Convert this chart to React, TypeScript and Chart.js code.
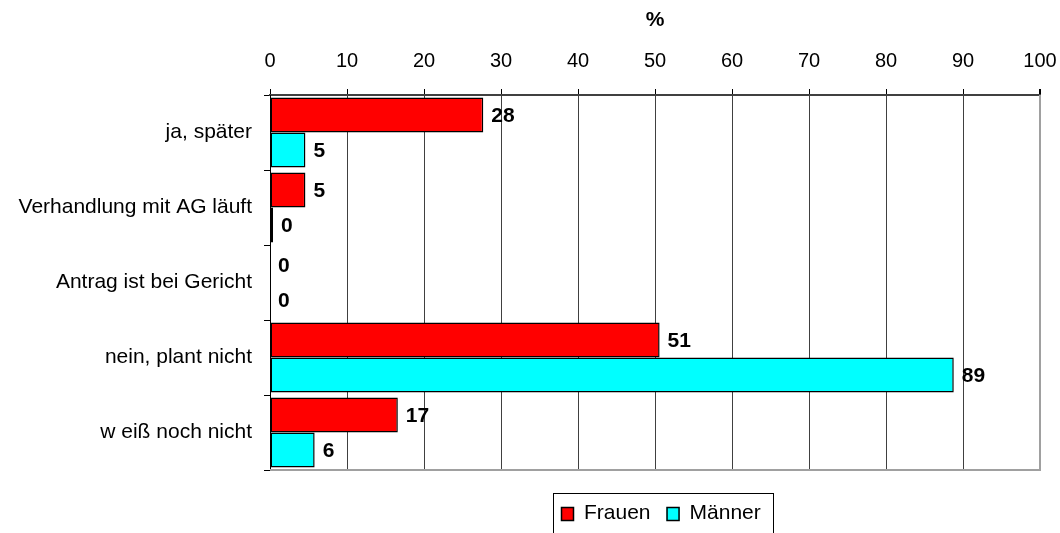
import React, { useEffect, useRef } from "react";
import { Chart, registerables } from "chart.js";

Chart.register(...registerables);

const categories = [
  "ja, später",
  "Verhandlung mit AG läuft",
  "Antrag ist bei Gericht",
  "nein, plant nicht",
  "w eiß noch nicht",
];
const seriesNames = ["Frauen", "Männer"];
const frauen = [27.7, 4.6, 0, 50.6, 16.6];
const maenner = [4.6, 0.4, 0, 88.8, 5.8];
const xTicks = [0, 10, 20, 30, 40, 50, 60, 70, 80, 90, 100];
const axisTitle = "%";

const FONT = "'Liberation Sans', Arial, Helvetica, sans-serif";

const valueLabels = {
  id: "valueLabels",
  afterDatasetsDraw(chart: any) {
    const ctx = chart.ctx;
    ctx.save();
    ctx.font = `bold 21px ${FONT}`;
    ctx.fillStyle = "#000";
    ctx.textBaseline = "middle";
    ctx.textAlign = "left";
    chart.data.datasets.forEach((ds: any, di: number) => {
      const meta = chart.getDatasetMeta(di);
      meta.data.forEach((el: any, i: number) => {
        const v = ds.data[i];
        ctx.fillText(String(Math.round(v)), el.x + 8, el.y + 1);
      });
    });
    ctx.restore();
  },
};

const frame = {
  id: "frame",
  beforeDatasetsDraw(chart: any) {
    const { ctx, chartArea: ca } = chart;
    ctx.save();
    ctx.strokeStyle = "#a0a0a0";
    ctx.lineWidth = 2;
    ctx.beginPath();
    ctx.moveTo(ca.left, ca.bottom);
    ctx.lineTo(ca.right, ca.bottom);
    ctx.lineTo(ca.right, ca.top);
    ctx.stroke();
    ctx.restore();
  },
};

const boxLegend = {
  id: "boxLegend",
  afterDraw(chart: any) {
    const { ctx, chartArea: ca } = chart;
    const cx = (ca.left + ca.right) / 2;
    const left = Math.round(cx - 102);
    const right = Math.round(cx + 118);
    const top = Math.round(ca.bottom + 23);
    ctx.save();
    ctx.font = `21px ${FONT}`;
    ctx.strokeStyle = "#000";
    ctx.lineWidth = 1;
    ctx.strokeRect(left + 0.5, top + 0.5, right - left, 80);
    const yc = top + 20;
    let x = left + 8;
    chart.data.datasets.forEach((ds: any) => {
      ctx.fillStyle = ds.backgroundColor;
      ctx.fillRect(x, top + 14, 13, 14);
      ctx.strokeStyle = "#000";
      ctx.lineWidth = 1.5;
      ctx.strokeRect(x + 0.5, top + 14.5, 12, 13);
      x += 13 + 10;
      ctx.fillStyle = "#000";
      ctx.textBaseline = "middle";
      ctx.textAlign = "left";
      ctx.fillText(ds.label, x, yc);
      x += ctx.measureText(ds.label).width + 16;
    });
    ctx.restore();
  },
};

export default function App() {
  const ref = useRef<HTMLCanvasElement>(null);

  useEffect(() => {
    Chart.defaults.font.family = FONT;
    Chart.defaults.color = "#000";
    const chart = new Chart(ref.current as HTMLCanvasElement, {
      type: "bar",
      data: {
        labels: categories,
        datasets: [
          {
            label: seriesNames[0],
            data: frauen,
            backgroundColor: "#FF0000",
            borderColor: "#000",
            borderWidth: 1.5,
            borderSkipped: false,
            categoryPercentage: 0.933,
            barPercentage: 1,
          },
          {
            label: seriesNames[1],
            data: maenner,
            backgroundColor: "#00FFFF",
            borderColor: "#000",
            borderWidth: 1.5,
            borderSkipped: false,
            categoryPercentage: 0.933,
            barPercentage: 1,
          },
        ],
      },
      options: {
        indexAxis: "y",
        animation: false,
        responsive: false,
        devicePixelRatio: 1,
        layout: { padding: { top: 0, right: 20, bottom: 63, left: 0 } },
        plugins: {
          legend: { display: false },
          tooltip: { enabled: false },
          title: { display: false },
        },
        scales: {
          x: {
            type: "linear",
            position: "top",
            min: 0,
            max: 100,
            afterBuildTicks: (scale: any) => {
              scale.ticks = xTicks.map((v) => ({ value: v }));
            },
            ticks: {
              font: { size: 20 },
              color: "#000",
              padding: 16,
              maxRotation: 0,
            },
            grid: {
              color: (c: any) => (c.tick && c.tick.value === 100 ? "#a0a0a0" : "#404040"),
              lineWidth: (c: any) => (c.tick && c.tick.value === 100 ? 2 : 1),
              tickLength: 6,
              tickColor: "#000",
            },
            border: { color: "#404040", width: 2 },
            title: {
              display: true,
              text: axisTitle,
              font: { size: 21, weight: "bold" },
              color: "#000",
              padding: { top: 8, bottom: 0 },
            },
            afterFit: (s: any) => {
              s.height = 95;
              s.paddingLeft = 0;
              s.paddingRight = 0;
            },
          },
          y: {
            type: "category",
            grid: {
              drawOnChartArea: false,
              tickLength: 6,
              color: "#000",
              offset: true,
            },
            border: { color: "#000", width: 1 },
            ticks: { font: { size: 21 }, color: "#000", padding: 12 },
            afterFit: (s: any) => {
              s.width = 270;
              s.paddingTop = 0;
              s.paddingBottom = 0;
            },
          },
        },
      } as any,
      plugins: [frame, valueLabels, boxLegend],
    });
    return () => chart.destroy();
  }, []);

  return (
    <div
      style={{
        position: "absolute",
        left: 0,
        top: 0,
        width: 1060,
        height: 533,
        background: "#fff",
      }}
    >
      <canvas
        ref={ref}
        width={1060}
        height={533}
        style={{ display: "block", width: 1060, height: 533 }}
      />
    </div>
  );
}
